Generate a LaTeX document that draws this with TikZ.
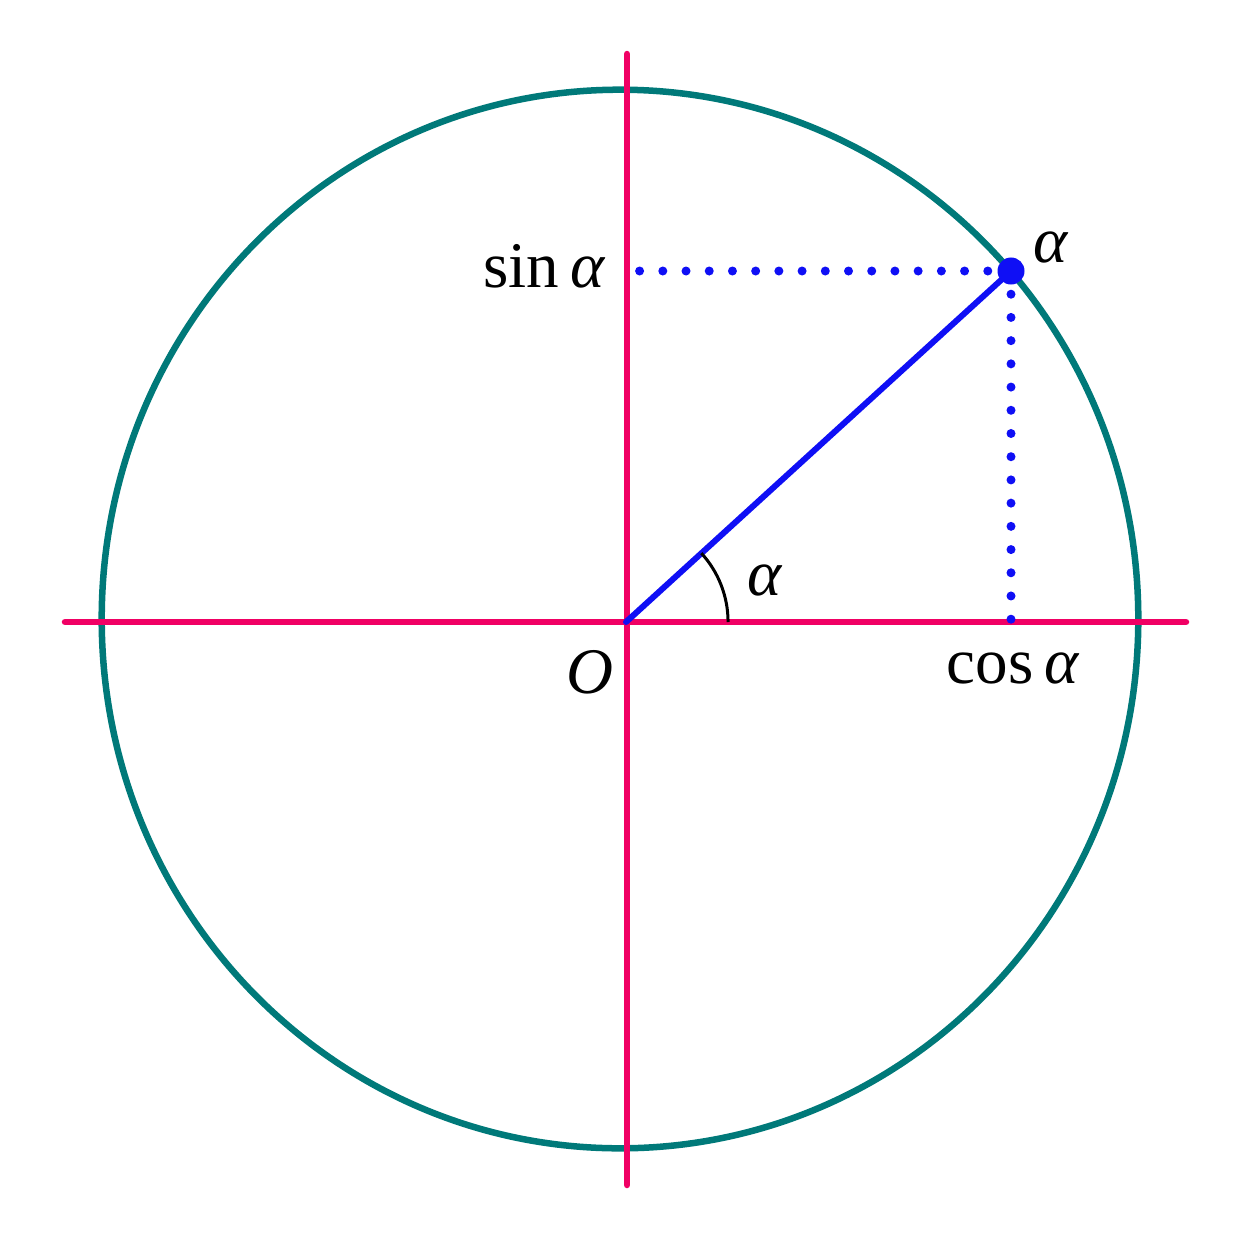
\documentclass[tikz,border=0pt]{standalone}
\usepackage{fontspec}
\setmainfont{Liberation Serif}

\definecolor{axispink}{RGB}{240,0,100}
\definecolor{circteal}{RGB}{0,121,121}
\definecolor{radblue}{RGB}{15,15,245}

\tikzset{
  axisline/.style={draw=axispink, line width=0.065cm, line cap=round},
  lbl/.style={inner sep=0pt, font=\fontsize{18.5}{22}\selectfont},
  dotline/.style={draw=radblue, line width=0.09cm, line cap=round, dash pattern=on 0pt off 0.232cm},
}
\newcommand{\alf}{\textit{α}}

\begin{document}
\begin{tikzpicture}[x=0.01cm, y=-0.01cm]
          \useasboundingbox (0,0) rectangle (1254,1254);

          % unit circle
          \draw[circteal, line width=0.065cm] (620,619) ellipse [x radius=5.18cm, y radius=5.29cm];

          \coordinate (O) at (626,622);
          \coordinate (L) at (65,622);
          \coordinate (R) at (1186,622);
          \coordinate (T) at (627,54);
          \coordinate (B) at (627,1185);
          \coordinate (S) at (626,271);
          \coordinate (C) at (1011,622);

          % axes
          \draw[axisline] (L) -- (R);
          \draw[axisline] (T) -- (B);

          % radius and point
          \draw[radblue, line width=0.06cm, line cap=round] (O) -- (1011,271) coordinate (A);
          \draw[dotline] (A) -- (S);
          \draw[dotline] (A) -- (C);
          \node[circle, fill=radblue, inner sep=0pt, minimum size=0.27cm] at (A) (Adot) {};

          % angle
          \draw[line width=0.03cm] ([shift={(0:1.02cm)}]O) arc [start angle=0, end angle=42.4, radius=1.02cm];

          % labels
          \node[lbl, anchor=base east] at (606,287) (sinlbl) {sin\,\alf};
          \node[lbl, anchor=base west] at (946,683) (coslbl) {cos\,\alf};
          \node[lbl, anchor=base west] at (1033,262) (Albl) {\alf};
          \node[lbl, anchor=base west] at (747,595) (anglbl) {\alf};
          \node[lbl, anchor=base west] at (566,693) (Olbl) {\textit{O}};
        \end{tikzpicture}
\end{document}
